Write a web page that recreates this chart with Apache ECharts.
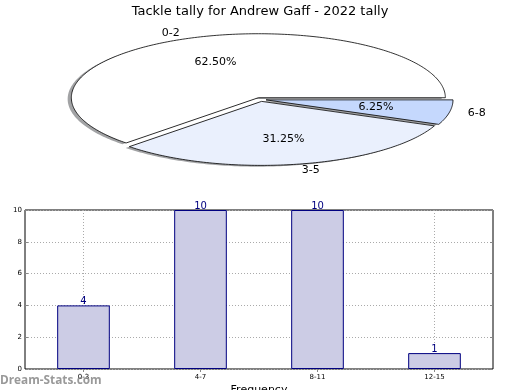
<!DOCTYPE html>
<html>
<head>
<meta charset="utf-8">
<script src="https://cdn.jsdelivr.net/npm/echarts@6/dist/echarts.min.js"></script>
<style>
html,body{margin:0;padding:0;background:#fff;}
#chart{width:520px;height:390px;}
</style>
</head>
<body>
<div id="chart"></div>
<script>
// ---- data ----
const chartTitle = 'Tackle tally for Andrew Gaff - 2022 tally';
const pieLabels = ['0-2', '3-5', '6-8'];
const pieValues = [10, 5, 1];
const barCategories = ['0-3', '4-7', '8-11', '12-15'];
const barValues = [4, 10, 10, 1];
const yTickMin = 0, yTickMax = 10, yTickStep = 2;
const watermark = 'Dream-Stats.com';

// ---- styles / layout ----
const FONT = 'DejaVu Sans';
const WM_FONT = '"Open Sans"';
const pieColors = ['#ffffff', '#eaf0fd', '#c5d8fd'];
const PIE = { cx: 260.5, cy: 99.5, rx: 187, ry: 64, explode: 0.03, shadowDx: -3.7, shadowDy: 1.3 };

// watermark font size fitted to ~102px width
const mctx = document.createElement('canvas').getContext('2d');
mctx.font = 'bold 14px ' + WM_FONT;
const wmW = mctx.measureText(watermark).width || 102;
const wmSize = Math.max(9, Math.min(16, 14 * 102 / wmW));

const pieTotal = pieValues.reduce((a, b) => a + b, 0);
function wedgeAngles(i) {
  let before = 0;
  for (let k = 0; k < i; k++) before += pieValues[k];
  const s = before / pieTotal * Math.PI * 2;
  const e = (before + pieValues[i]) / pieTotal * Math.PI * 2;
  return [s, e];
}
function wedgeCenter(i) {
  const [s, e] = wedgeAngles(i);
  const m = (s + e) / 2;
  return [PIE.cx + PIE.explode * PIE.rx * Math.cos(m), PIE.cy - PIE.explode * PIE.ry * Math.sin(m), m];
}
function wedgePoints(i, dx, dy) {
  const [s, e] = wedgeAngles(i);
  const [cx, cy] = wedgeCenter(i);
  const pts = [[cx + dx, cy + dy]];
  const n = Math.max(4, Math.ceil((e - s) / (Math.PI / 180)));
  for (let k = 0; k <= n; k++) {
    const t = s + (e - s) * k / n;
    pts.push([cx + dx + PIE.rx * Math.cos(t), cy + dy - PIE.ry * Math.sin(t)]);
  }
  return pts;
}

const chart = echarts.init(document.getElementById('chart'), null, { renderer: 'canvas' });

const option = {
  backgroundColor: '#fff',
  animation: false,
  title: {
    text: chartTitle,
    left: 'center',
    top: 0,
    textStyle: { fontFamily: FONT, fontSize: 13, fontWeight: 'normal', color: '#000' }
  },
  graphic: [{
    type: 'text', left: 0, top: 375, z: 100,
    style: { text: watermark, font: 'bold ' + wmSize.toFixed(1) + 'px ' + WM_FONT, fill: 'rgba(135,135,135,0.85)' }
  }],
  grid: { left: 25, right: 27, top: 210, bottom: 21, show: true, borderColor: '#000', borderWidth: 1,
          backgroundColor: 'transparent', containLabel: false, outerBoundsMode: 'none' },
  xAxis: [{
    type: 'category', data: barCategories, position: 'bottom',
    axisLine: { show: false },
    axisTick: { show: true, inside: true, alignWithLabel: true, length: 3, lineStyle: { color: '#888' } },
    axisLabel: { fontFamily: FONT, fontSize: 7, color: '#000', margin: 5 },
    splitLine: { show: true, alignWithLabel: true, lineStyle: { type: [1, 2], color: '#aaa' } },
    name: 'Frequency', nameLocation: 'middle', nameGap: 16,
    nameTextStyle: { fontFamily: FONT, fontSize: 11, color: '#000' }
  }, {
    type: 'category', data: barCategories, position: 'top',
    axisLine: { show: false },
    axisTick: { show: true, inside: true, alignWithLabel: true, length: 3, lineStyle: { color: '#888' } },
    axisLabel: { show: false }, splitLine: { show: false }
  }],
  yAxis: [{
    type: 'value', min: yTickMin, max: yTickMax, interval: yTickStep,
    axisLine: { show: false },
    axisTick: { show: true, inside: true, length: 3, lineStyle: { color: '#888' } },
    axisLabel: { fontFamily: FONT, fontSize: 7, color: '#000', margin: 3 },
    splitLine: { show: true, lineStyle: { type: [1, 2], color: '#aaa' } },
    name: 'Stat Intervals', nameLocation: 'middle', nameGap: 14,
    nameTextStyle: { fontFamily: FONT, fontSize: 11, color: '#000' }
  }, {
    type: 'value', min: yTickMin, max: yTickMax, interval: yTickStep, position: 'right',
    axisLine: { show: false },
    axisTick: { show: true, inside: true, length: 3, lineStyle: { color: '#888' } },
    axisLabel: { show: false }, splitLine: { show: false }
  }],
  series: [
    {
      type: 'bar', data: barValues, xAxisIndex: 0, yAxisIndex: 0, barWidth: '45%',
      itemStyle: { color: '#cccce5', borderColor: '#000080', borderWidth: 1 },
      label: { show: true, position: 'top', distance: -1, color: '#000080', fontFamily: FONT, fontSize: 10 }
    },
    {
      type: 'custom', coordinateSystem: 'none', z: 1, silent: true,
      data: pieValues,
      renderItem: function (params) {
        const i = params.dataIndex;
        return {
          type: 'polygon',
          shape: { points: wedgePoints(i, PIE.shadowDx, PIE.shadowDy) },
          style: { fill: 'rgba(70,72,76,0.5)', stroke: null }
        };
      }
    },
    {
      type: 'custom', coordinateSystem: 'none', z: 2, silent: true,
      data: pieValues,
      renderItem: function (params) {
        const i = params.dataIndex;
        const [cx, cy, m] = wedgeCenter(i);
        const pct = (pieValues[i] / pieTotal * 100).toFixed(2) + '%';
        const lx = cx + 1.1 * PIE.rx * Math.cos(m);
        const ly = cy - 1.1 * PIE.ry * Math.sin(m);
        const px = cx + 0.6 * PIE.rx * Math.cos(m);
        const py = cy - 0.6 * PIE.ry * Math.sin(m);
        return {
          type: 'group',
          children: [
            { type: 'polygon', shape: { points: wedgePoints(i, 0, 0) },
              style: { fill: pieColors[i], stroke: '#000', lineWidth: 0.8 } },
            { type: 'text', style: { x: px, y: py, text: pct, align: 'center', verticalAlign: 'middle',
              font: '11px ' + FONT, fill: '#000' } },
            { type: 'text', style: { x: lx, y: ly, text: pieLabels[i],
              align: Math.cos(m) < 0 ? 'right' : 'left', verticalAlign: 'middle',
              font: '11px ' + FONT, fill: '#000' } }
          ]
        };
      }
    }
  ]
};
chart.setOption(option);
</script>
</body>
</html>
